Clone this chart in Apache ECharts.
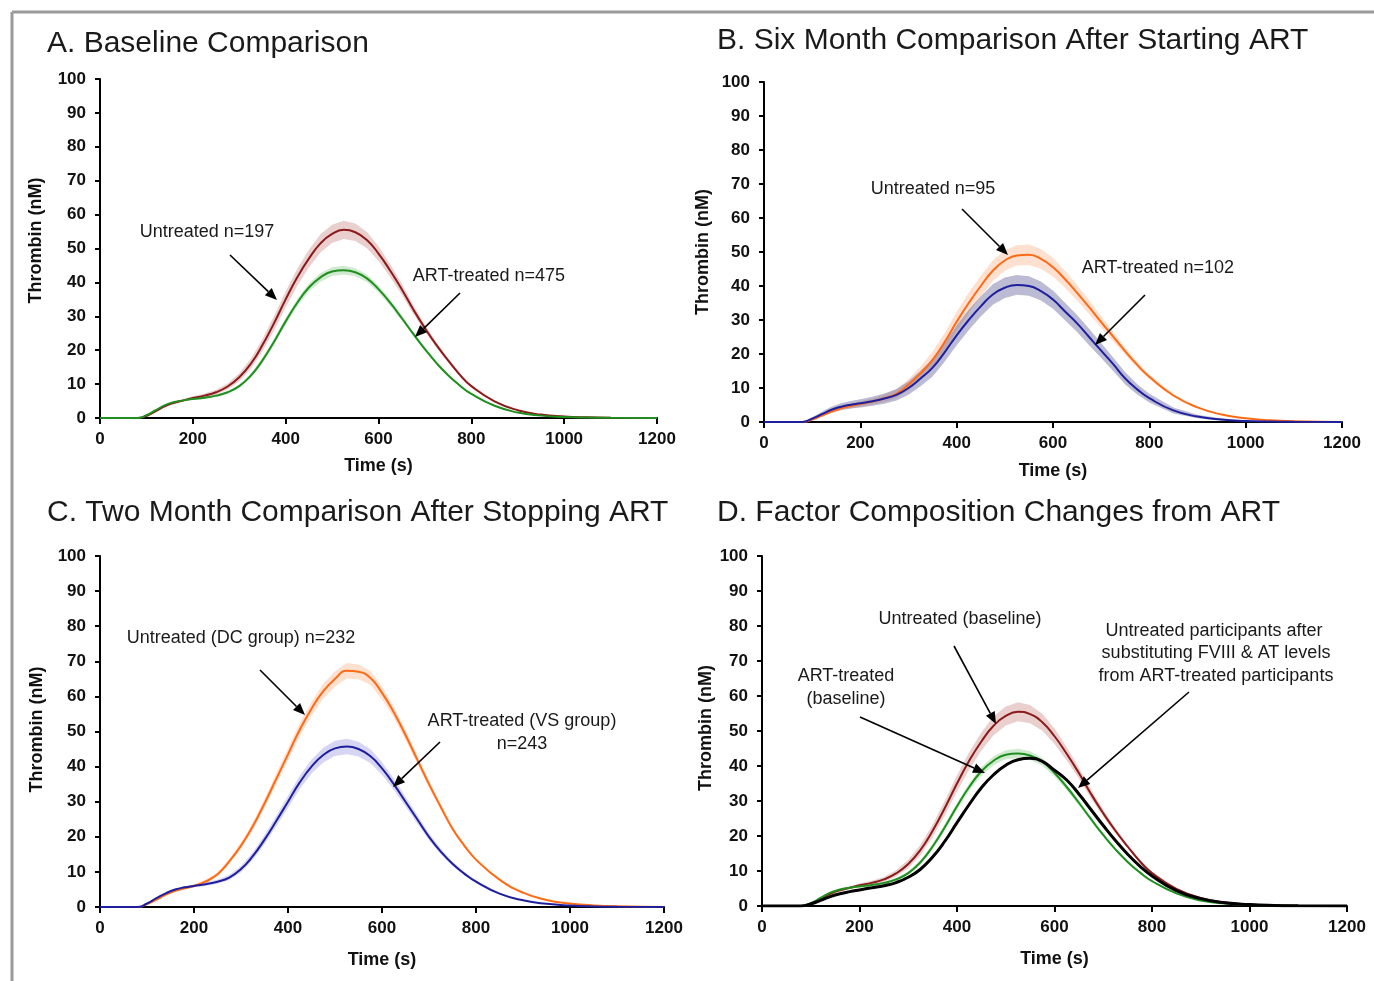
<!DOCTYPE html>
<html><head><meta charset="utf-8">
<script src="https://cdn.jsdelivr.net/npm/echarts@6/dist/echarts.min.js"></script>
<style>html,body{margin:0;padding:0;background:#fff}#chart{width:1374px;height:981px}</style>
</head><body><div id="chart"></div>
<script>
// ---- DATA ----
const times = [0,60,80,100,120,140,160,180,200,225,250,275,300,325,350,375,400,425,450,475,500,525,550,575,600,625,650,675,700,725,750,775,800,850,900,950,1000,1050,1100,1200];

// Panel A & D : baseline
const untreatedBaseline = [0,0,0,0.6,2.0,3.5,4.5,5.2,5.9,6.6,7.6,9.3,12,16,21.5,28,35,41.5,47,51.5,54.3,55.5,54.8,52.5,48.5,43.5,38,32,26.5,21.5,17,12.8,9.4,4.9,2.3,1.0,0.45,0.2,0.08,0];
const untreatedBaselineSd = [0,0,0,0.2,0.3,0.4,0.4,0.4,0.5,0.6,0.7,0.9,1.2,1.5,1.8,2.1,2.3,2.5,2.6,2.7,2.7,2.7,2.6,2.4,2.2,1.9,1.6,1.3,1.0,0.8,0.6,0.5,0.4,0.2,0.1,0.05,0,0,0,0];
const artBaseline = [0,0,0,0.8,2.3,3.8,4.7,5.2,5.6,6.0,6.6,7.6,9.4,12.5,17,22.5,28.5,34,38.5,41.5,43.2,43.6,43,41.2,38,34,29.5,24.8,20.3,16.2,12.6,9.6,7.1,3.6,1.6,0.7,0.3,0.12,0.04,0];
const artBaselineSd = [0,0,0,0.1,0.2,0.2,0.2,0.2,0.3,0.3,0.4,0.4,0.5,0.6,0.8,0.9,1.0,1.1,1.2,1.3,1.3,1.3,1.2,1.1,1.0,0.9,0.8,0.6,0.5,0.4,0.3,0.3,0.2,0.1,0.05,0,0,0,0,0];
// Panel B : six months after starting ART
const untreatedSixMonth = [0,0,0,0.7,1.9,3.1,4.0,4.7,5.3,6.0,7.0,8.3,11,14.3,18.3,23.5,29.5,35,40,44.5,47.5,49,49.2,48,45.5,42,38,33.8,29.4,25.1,20.8,16.8,13.3,7.8,4.3,2.2,1.1,0.5,0.2,0];
const untreatedSixMonthSd = [0,0,0,0.2,0.4,0.5,0.6,0.7,0.8,0.9,1.1,1.3,1.6,2.0,2.4,2.7,2.9,3.0,3.0,3.0,3.0,3.0,3.0,2.9,2.7,2.5,2.3,2.0,1.7,1.4,1.1,0.9,0.7,0.4,0.2,0.1,0,0,0,0];
const artSixMonth = [0,0,0,1.0,2.3,3.6,4.5,5.1,5.5,6.1,6.9,8.0,10.0,12.8,16,20.5,25.5,30,34,37.5,39.5,40.3,40,38.5,36,32.5,29,25,21,17,12.8,9.6,7.0,3.4,1.6,0.7,0.3,0.12,0.05,0];
const artSixMonthSd = [0,0,0,0.4,0.7,0.9,1.0,1.1,1.2,1.3,1.5,1.7,2.0,2.3,2.6,2.8,2.9,3.0,3.0,3.0,3.0,2.9,2.9,2.8,2.7,2.6,2.5,2.4,2.2,2.0,1.8,1.5,1.3,0.9,0.5,0.3,0.1,0.05,0,0];
// Panel C : two months after stopping ART
const untreatedDC = [0,0,0,0.8,2.1,3.5,4.6,5.3,6.0,7.3,9.3,13,17.5,23,29.5,36.5,43.5,50.5,56.5,61.5,65,67.3,67,65.3,61,55.5,49,42,35,28.5,22.3,17.5,13.5,7.8,4.1,2.0,1.0,0.45,0.18,0];
const untreatedDCSd = [0,0,0,0.1,0.2,0.3,0.3,0.3,0.4,0.5,0.6,0.7,0.9,1.1,1.3,1.5,1.7,1.9,2.0,2.1,2.2,2.2,2.1,2.0,1.8,1.6,1.4,1.2,1.0,0.8,0.6,0.5,0.4,0.2,0.1,0,0,0,0,0];
const artVS = [0,0,0,1.0,2.5,3.9,5.0,5.6,6.0,6.5,7.2,8.4,10.8,14.5,19.2,24.5,30,35.5,40,43.3,45.2,45.7,45,43,39.5,35,30,25,20,15.8,12.3,9.5,7.2,3.8,1.9,0.9,0.4,0.15,0.05,0];
const artVSSd = [0,0,0,0.1,0.2,0.3,0.3,0.3,0.4,0.5,0.6,0.7,0.9,1.1,1.3,1.5,1.7,1.9,2.0,2.1,2.2,2.2,2.1,2.0,1.8,1.6,1.4,1.2,1.0,0.8,0.6,0.5,0.4,0.2,0.1,0,0,0,0,0];
// Panel D : substituted FVIII & AT
const untreatedSubstituted = [0,0,0,0.6,1.6,2.7,3.5,4.1,4.6,5.2,5.8,6.7,8.2,10.5,14,18.5,23.8,29,33.8,37.5,40.2,41.8,42.2,41.3,38.8,36,32,27.5,23,18.7,14.8,11.4,8.6,4.4,2.1,0.9,0.4,0.15,0.05,0];

const panelTitles = ['A. Baseline Comparison','B. Six Month Comparison After Starting ART','C. Two Month Comparison After Stopping ART','D. Factor Composition Changes from ART'];
const xName = 'Time (s)';
const yName = 'Thrombin (nM)';

// ---- LAYOUT / STYLE ----
const FONT = '"Liberation Sans", Arial, sans-serif';
const C_RED = '#8b1a1a', C_GREEN = '#1f8f1f', C_ORANGE = '#ff6a14', C_BLUE = '#1f1f9e', C_BLACK = '#000';
const grids = [
  {left:100, top:79, width:557, height:339},
  {left:764, top:82, width:578, height:340},
  {left:100, top:556, width:564, height:351},
  {left:762, top:556, width:585, height:350}
];
const xGaps = [39, 40, 44, 44];
const yGaps = [55, 52, 54, 47];
const yNameShift = [16, 0, 4, 6];

const chart = echarts.init(document.getElementById('chart'), null, {renderer:'canvas'});

const xAxes = grids.map((g,i)=>({
  gridIndex:i, type:'value', min:0, max:1200, interval:200,
  name:xName, nameLocation:'middle', nameGap:xGaps[i],
  nameTextStyle:{fontSize:18, fontWeight:'bold', color:'#111', fontFamily:FONT},
  axisLine:{onZero:false, lineStyle:{color:'#000', width:2}},
  axisTick:{show:true, length:6, lineStyle:{color:'#000', width:2}},
  axisLabel:{fontSize:17, fontWeight:'bold', color:'#111', margin:13, fontFamily:FONT, showMinLabel:true, showMaxLabel:true,
    formatter: v => String(v)},
  splitLine:{show:false}
}));
const yAxes = grids.map((g,i)=>({
  gridIndex:i, type:'value', min:0, max:100, interval:10,
  name:yName, nameLocation:'middle', nameGap:yGaps[i],
  nameTextStyle:{fontSize:18, fontWeight:'bold', color:'#111', fontFamily:FONT, padding:[0, 0, 0, yNameShift[i]]},
  axisLine:{show:true, lineStyle:{color:'#000', width:2}},
  axisTick:{show:true, length:5, lineStyle:{color:'#000', width:2}},
  axisLabel:{fontSize:17, fontWeight:'bold', color:'#111', margin:14, fontFamily:FONT, formatter: v => String(v)},
  splitLine:{show:false}
}));

function lineSeries(gi, arr, color, width){
  return {type:'line', xAxisIndex:gi, yAxisIndex:gi, data: times.map((t,i)=>[t, arr[i]]),
    showSymbol:false, smooth:0.5, silent:true, z:5,
    lineStyle:{color, width: width||2}};
}
function bandSeries(gi, mean, sd, fill){
  const data = times.map((t,i)=>[t, mean[i]-sd[i], mean[i]+sd[i]]);
  return {type:'custom', xAxisIndex:gi, yAxisIndex:gi, data, encode:{x:0, y:[1,2]}, z:2, silent:true,
    renderItem(params, api){
      if (params.dataIndex !== 0) return null;
      const up = [], lo = [];
      for (const d of data){ up.push(api.coord([d[0], d[2]])); lo.push(api.coord([d[0], d[1]])); }
      return {type:'polygon', shape:{points: up.concat(lo.reverse())}, style:{fill, stroke:null}};
    }};
}

const series = [
  bandSeries(0, untreatedBaseline, untreatedBaselineSd, 'rgba(190,110,110,0.33)'),
  bandSeries(0, artBaseline, artBaselineSd, 'rgba(110,190,110,0.33)'),
  lineSeries(0, untreatedBaseline, C_RED),
  lineSeries(0, artBaseline, C_GREEN),

  bandSeries(1, untreatedSixMonth, untreatedSixMonthSd, 'rgba(250,160,110,0.33)'),
  bandSeries(1, artSixMonth, artSixMonthSd, 'rgba(60,60,130,0.35)'),
  lineSeries(1, untreatedSixMonth, C_ORANGE),
  lineSeries(1, artSixMonth, C_BLUE),

  bandSeries(2, untreatedDC, untreatedDCSd, 'rgba(250,160,110,0.33)'),
  bandSeries(2, artVS, artVSSd, 'rgba(130,130,220,0.33)'),
  lineSeries(2, untreatedDC, C_ORANGE),
  lineSeries(2, artVS, C_BLUE),

  bandSeries(3, untreatedBaseline, untreatedBaselineSd, 'rgba(190,110,110,0.33)'),
  bandSeries(3, artBaseline, artBaselineSd, 'rgba(110,190,110,0.33)'),
  lineSeries(3, untreatedBaseline, C_RED),
  lineSeries(3, artBaseline, C_GREEN),
  lineSeries(3, untreatedSubstituted, C_BLACK, 3)
];

// ---- ANNOTATIONS ----
function txt(x, y, text, size, align){
  return {type:'text', x, y, silent:true, z:10,
    style:{text, fontSize:size||18, fontFamily:FONT, fill:'#1a1a1a', align: align||'center', verticalAlign:'middle'}};
}
function arrow(x1,y1,x2,y2){
  const a = Math.atan2(y2-y1, x2-x1), L = 12, W = 5;
  const bx = x2 - L*Math.cos(a), by = y2 - L*Math.sin(a);
  const px = -Math.sin(a)*W, py = Math.cos(a)*W;
  return [
    {type:'line', silent:true, z:10, shape:{x1, y1, x2:bx, y2:by}, style:{stroke:'#000', lineWidth:1.6}},
    {type:'polygon', silent:true, z:10, shape:{points:[[x2,y2],[bx+px,by+py],[bx-px,by-py]]}, style:{fill:'#000'}}
  ];
}
const graphics = [
  {type:'line', silent:true, shape:{x1:12, y1:12, x2:1374, y2:12}, style:{stroke:'#9a9a9a', lineWidth:3}},
  {type:'line', silent:true, shape:{x1:12, y1:12, x2:12, y2:981}, style:{stroke:'#9a9a9a', lineWidth:3}},
  txt(47, 44, panelTitles[0], 30, 'left'),
  txt(717, 41, panelTitles[1], 30, 'left'),
  txt(47, 513, panelTitles[2], 30, 'left'),
  txt(717, 513, panelTitles[3], 30, 'left'),

  txt(207, 232, 'Untreated n=197'),
  txt(489, 276, 'ART-treated n=475'),
  ...arrow(230,255,277,300),
  ...arrow(460,293,415,337),

  txt(933, 189, 'Untreated n=95'),
  txt(1158, 268, 'ART-treated n=102'),
  ...arrow(962,209,1008,255),
  ...arrow(1145,295,1095,345),

  txt(241, 638, 'Untreated (DC group) n=232'),
  txt(522, 721, 'ART-treated (VS group)'),
  txt(522, 744, 'n=243'),
  ...arrow(260,670,305,715),
  ...arrow(440,742,393,787),

  txt(960, 619, 'Untreated (baseline)'),
  txt(846, 676, 'ART-treated'),
  txt(846, 699, '(baseline)'),
  txt(1214, 631, 'Untreated participants after'),
  txt(1216, 653, 'substituting FVIII & AT levels'),
  txt(1216, 676, 'from ART-treated participants'),
  ...arrow(954,646,996,724),
  ...arrow(860,717,985,773),
  ...arrow(1189,692,1078,788)
];

chart.setOption({
  backgroundColor:'#fff',
  animation:false,
  grid: grids,
  xAxis: xAxes,
  yAxis: yAxes,
  series,
  graphic: graphics
});
</script>
</body></html>
